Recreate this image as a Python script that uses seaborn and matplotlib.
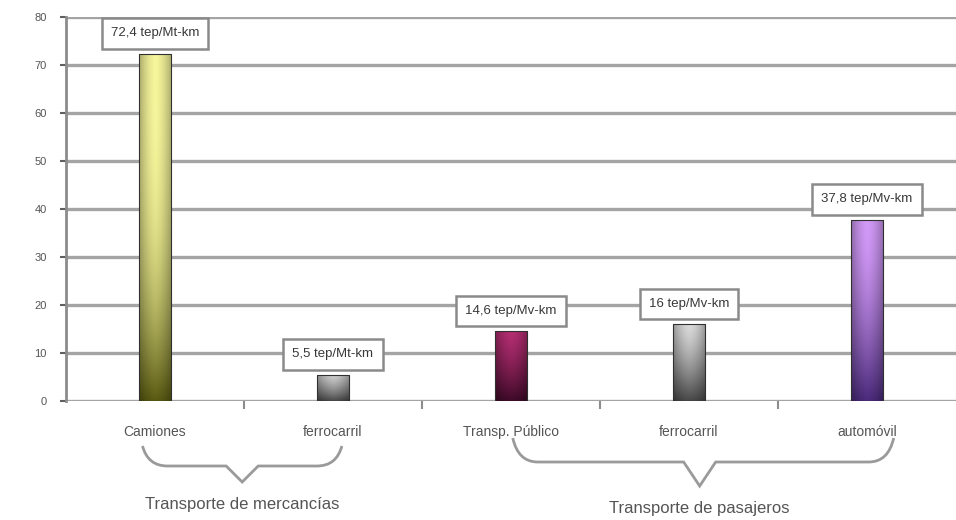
import numpy as np
import pandas as pd
import matplotlib
matplotlib.use("Agg")
import matplotlib.pyplot as plt
import seaborn as sns
from matplotlib.colors import to_rgb
from matplotlib.path import Path
from matplotlib.patches import PathPatch
from matplotlib.transforms import blended_transform_factory

# Energy intensity by transport mode
categorias = ["Camiones", "ferrocarril", "Transp. Público", "ferrocarril", "automóvil"]
valores = [72.4, 5.5, 14.6, 16.0, 37.8]
etiquetas = ["72,4 tep/Mt-km", "5,5 tep/Mt-km", "14,6 tep/Mv-km", "16 tep/Mv-km", "37,8 tep/Mv-km"]
grupos = ["Transporte de mercancías", "Transporte de pasajeros"]
y_ticks = [0, 10, 20, 30, 40, 50, 60, 70, 80]

# top / bottom colours of each bar's gradient
color_sup = ["#f6f69c", "#cfcfcf", "#b42e72", "#dadada", "#d29af7"]
color_inf = ["#5a5a12", "#484848", "#3e0a28", "#484848", "#4a2a7a"]
gamma = [2.8, 1.3, 1.3, 1.3, 1.6]

sns.set_theme(style="white")
plt.rcParams["font.family"] = ["Liberation Sans", "DejaVu Sans"]

fig = plt.figure(figsize=(9.56, 5.2), dpi=100)
ax = fig.add_axes([0.069, 0.229, 0.931, 0.738])

df = pd.DataFrame({"pos": np.arange(len(categorias)), "valor": valores})
sns.barplot(data=df, x="pos", y="valor", hue="pos", palette=color_sup,
            width=0.18, legend=False, ax=ax, edgecolor="#303030", linewidth=0.8)

ax.set_xlim(-0.5, len(categorias) - 0.5)
ax.set_ylim(0, 80)

# gradient fill clipped to each bar
for i, p in enumerate(ax.patches):
    x, y = p.get_x(), p.get_y()
    w, h = p.get_width(), p.get_height()
    top = np.array(to_rgb(color_sup[i]))
    bot = np.array(to_rgb(color_inf[i]))
    ny, nx = 200, 40
    t = (np.linspace(0, 1, ny) ** gamma[i])[:, None, None]   # 0 at top, 1 at bottom
    col = top * (1 - t) + bot * t
    u = np.linspace(-1, 1, nx)[None, :, None]
    shade = 1 - 0.3 * np.abs(u) ** 1.6
    img = np.clip(col * shade, 0, 1)
    im = ax.imshow(img, extent=[x, x + w, y, y + h], origin="upper",
                   aspect="auto", zorder=2.5, interpolation="bilinear")
    im.set_clip_path(p)
    p.set_zorder(2.6)
    p.set_facecolor("none")

# value boxes above bars
for i, p in enumerate(ax.patches):
    cx = p.get_x() + p.get_width() / 2
    ax.annotate(etiquetas[i], (cx, valores[i]), xytext=(0, 14.5),
                textcoords="offset points", ha="center", va="center",
                fontsize=9.5, color="#383838", zorder=5,
                bbox=dict(boxstyle="square,pad=0.7", fc="white",
                          ec="#8a8a8a", lw=1.8))

# grid and axes styling
ax.set_yticks(y_ticks)
ax.yaxis.grid(True, color="#a4a4a4", linewidth=2.4)
ax.xaxis.grid(False)
ax.set_axisbelow(True)
for s in ["top", "right", "bottom"]:
    ax.spines[s].set_visible(False)
ax.spines["left"].set_color("#8c8c8c")
ax.spines["left"].set_linewidth(2)
ax.tick_params(axis="y", which="major", left=True, length=4, width=1.5,
               color="#606060", labelsize=8, labelcolor="#555555", pad=10)

ax.set_xticks(np.arange(len(categorias)))
ax.set_xticklabels(categorias)
ax.set_xticks(np.arange(len(categorias) - 1) + 0.5, minor=True)
ax.tick_params(axis="x", which="major", bottom=False, labelsize=10,
               labelcolor="#555555", pad=11)
ax.tick_params(axis="x", which="minor", bottom=True, length=6, width=1.5,
               color="#8c8c8c")
ax.set_xlabel("")
ax.set_ylabel("")

# group braces below the category labels
tr = blended_transform_factory(ax.transData, fig.transFigure)
H = 520.0

def brace(x0, x1, xm, y_end, y_mid, y_tip):
    fy = lambda py: 1 - py / H
    dx = 0.14
    verts = [(x0, fy(y_end)), (x0 + 0.03, fy(y_mid)), (x0 + dx, fy(y_mid)),
             (xm - 0.09, fy(y_mid)),
             (xm, fy(y_tip)),
             (xm + 0.09, fy(y_mid)),
             (x1 - dx, fy(y_mid)), (x1 - 0.03, fy(y_mid)), (x1, fy(y_end))]
    codes = [Path.MOVETO, Path.CURVE3, Path.CURVE3,
             Path.LINETO, Path.LINETO, Path.LINETO,
             Path.LINETO, Path.CURVE3, Path.CURVE3]
    ax.add_patch(PathPatch(Path(verts, codes), transform=tr, fill=False,
                           ec="#9a9a9a", lw=2, clip_on=False))

brace(-0.07, 1.05, 0.49, 446, 466, 482)
brace(2.01, 4.15, 3.06, 438, 462, 486)

ax.text(0.49, 1 - 505 / H, grupos[0], transform=tr, ha="center", va="center",
        fontsize=12, color="#555555")
ax.text(3.06, 1 - 508 / H, grupos[1], transform=tr, ha="center", va="center",
        fontsize=12, color="#555555")

fig.savefig("out.png", dpi=100, facecolor="white")
